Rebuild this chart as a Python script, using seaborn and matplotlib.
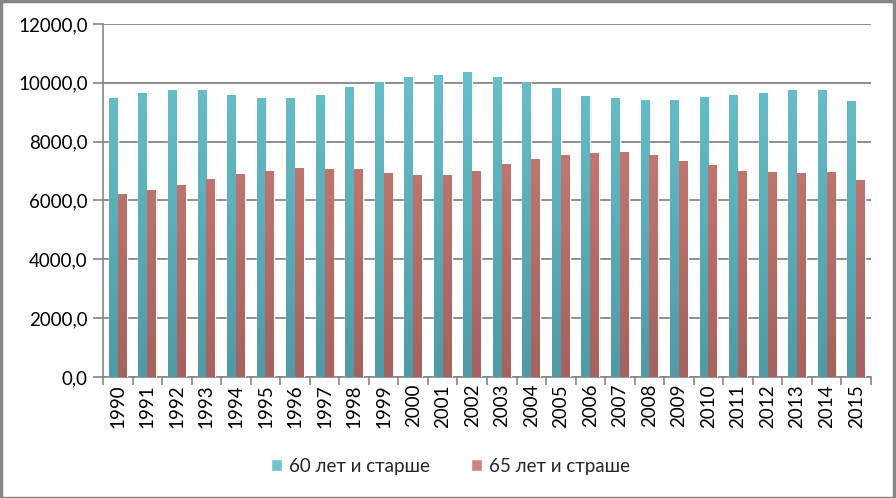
import numpy as np
import pandas as pd
import matplotlib
matplotlib.use("Agg")
import matplotlib.pyplot as plt
import matplotlib.colors as mcolors
import seaborn as sns

years = [str(y) for y in range(1990, 2016)]
s60_name = "60 лет и старше"
s65_name = "65 лет и страше"
s60 = [9470, 9640, 9740, 9740, 9600, 9470, 9470, 9570, 9840, 10040, 10210, 10280, 10350,
       10210, 9990, 9810, 9540, 9470, 9400, 9400, 9500, 9570, 9640, 9740, 9770, 9370]
s65 = [6210, 6350, 6520, 6720, 6890, 6990, 7090, 7060, 7060, 6920, 6860, 6860, 6990,
       7230, 7400, 7540, 7600, 7640, 7540, 7330, 7200, 6990, 6960, 6920, 6960, 6690]
yticks = [0, 2000, 4000, 6000, 8000, 10000, 12000]
ytick_labels = ["0,0", "2000,0", "4000,0", "6000,0", "8000,0", "10000,0", "12000,0"]

top_colors = {s60_name: "#6CC5CF", s65_name: "#CF837A"}
bot_colors = {s60_name: "#4F9AA5", s65_name: "#A5625E"}

df = pd.DataFrame({
    "year": years * 2,
    "value": s60 + s65,
    "series": [s60_name] * len(years) + [s65_name] * len(years),
})

sns.set_theme(style="white")
plt.rcParams["font.family"] = ["Lato", "DejaVu Sans"]

fig = plt.figure(figsize=(8.96, 4.98), dpi=100)
ax = fig.add_axes([0.115, 0.243, 0.857, 0.709])

sns.barplot(data=df, x="year", y="value", hue="series", order=years,
            hue_order=[s60_name, s65_name],
            palette=[top_colors[s60_name], top_colors[s65_name]],
            width=0.6, gap=0, saturation=1, ax=ax, legend=True, zorder=3,
            err_kws={"linewidth": 0})

ax.set_ylim(0, 12000)
ax.set_xlim(-0.5, len(years) - 0.5)

series_order = [s60_name, s65_name]
for cont, name in zip(ax.containers, series_order):
    cmap = mcolors.LinearSegmentedColormap.from_list(
        name, [bot_colors[name], top_colors[name]])
    grad = np.linspace(0, 1, 256).reshape(-1, 1)
    for p in cont.patches:
        x0, y0 = p.get_x(), p.get_y()
        w, h = p.get_width(), p.get_height()
        sh = plt.Rectangle((x0 + w * 0.15, y0), w, h, color="#000000", alpha=0.06,
                           zorder=2, linewidth=0)
        ax.add_patch(sh)
        im = ax.imshow(grad, extent=[x0, x0 + w, 0, 12000], origin="lower",
                       cmap=cmap, aspect="auto", zorder=4)
        im.set_clip_path(p)
ax.set_xlim(-0.5, len(years) - 0.5)
ax.set_ylim(0, 12000)

ax.set_yticks(yticks)
ax.set_yticklabels(ytick_labels, fontsize=13.5, color="#000000")
ax.set_xticks(range(len(years)))
ax.set_xticklabels(years, rotation=90, fontsize=13.5, color="#000000")
ax.set_xlabel("")
ax.set_ylabel("")

ax.yaxis.grid(True, color="#868686", linewidth=1.3, zorder=0)
ax.set_axisbelow(True)
for s in ["top", "right"]:
    ax.spines[s].set_visible(False)
for s in ["left", "bottom"]:
    ax.spines[s].set_color("#868686")
    ax.spines[s].set_linewidth(1.2)

ax.tick_params(axis="y", which="major", length=7, width=1.2, color="#868686",
               direction="out", left=True, pad=4)
ax.tick_params(axis="x", which="major", length=0, pad=5)
ax.set_xticks(np.arange(-0.5, len(years), 1), minor=True)
ax.tick_params(axis="x", which="minor", length=6, width=1.2, color="#868686",
               direction="out", bottom=True)

handles, labels = ax.get_legend_handles_labels()
ax.legend(handles, labels, loc="center", ncol=2, frameon=False, fontsize=13.5,
          handlelength=0.55, handleheight=0.55, handletextpad=0.4, columnspacing=2.2,
          bbox_to_anchor=(0.503, 0.064), bbox_transform=fig.transFigure)

border = plt.Rectangle((0.001, 0.001), 0.997, 0.996, transform=fig.transFigure,
                       fill=False, edgecolor="#868686", linewidth=2.5)
fig.patches.append(border)

fig.savefig("out.png", dpi=100)
